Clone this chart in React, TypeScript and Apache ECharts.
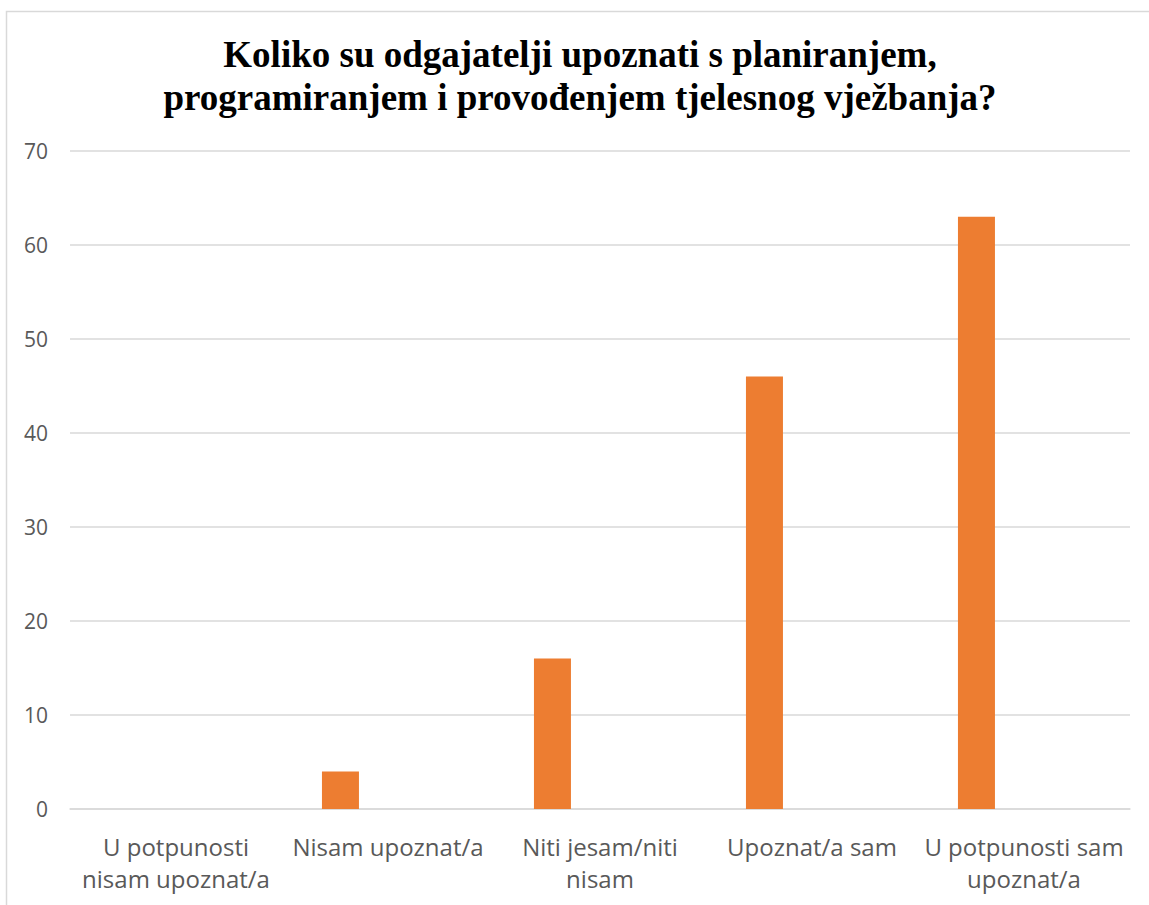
import React, { useEffect, useRef } from "react";
import * as echarts from "echarts";

const titleLines = [
  "Koliko su odgajatelji upoznati s planiranjem,",
  "programiranjem i provođenjem tjelesnog vježbanja?",
];
const categories = [
  "U potpunosti\nnisam upoznat/a",
  "Nisam upoznat/a",
  "Niti jesam/niti\nnisam",
  "Upoznat/a sam",
  "U potpunosti sam\nupoznat/a",
];
const values = [0, 4, 16, 46, 63];
const emptySeries: (number | null)[] = [null, null, null, null, null];
const yTicks = { min: 0, max: 70, interval: 10 };

export default function App() {
  const ref = useRef<HTMLDivElement>(null);
  useEffect(() => {
    if (!ref.current) return;
    const chart = echarts.init(ref.current, undefined, { renderer: "svg" });
    chart.setOption({
      animation: false,
      backgroundColor: "#ffffff",
      title: {
        text: titleLines.join("\n"),
        left: 575,
        top: 28,
        textAlign: "center",
        textStyle: {
          fontFamily: "Liberation Serif",
          fontWeight: "bold",
          fontSize: 37,
          lineHeight: 43,
          color: "#000000",
        },
      },
      graphic: [
        {
          type: "rect",
          shape: { x: 6.5, y: 11.5, width: 1160, height: 920 },
          style: { fill: "none", stroke: "#d9d9d9", lineWidth: 1.5 },
          silent: true,
        },
      ],
      grid: { left: 70, right: 19, top: 151, bottom: 96, containLabel: false },
      xAxis: {
        type: "category",
        data: categories,
        axisLine: { show: true, lineStyle: { color: "#d9d9d9", width: 1.5 } },
        axisTick: { show: false },
        axisLabel: {
          interval: 0,
          margin: 21,
          color: "#595959",
          fontFamily: "Open Sans",
          fontSize: 24,
          lineHeight: 32,
        },
      },
      yAxis: {
        type: "value",
        min: yTicks.min,
        max: yTicks.max,
        interval: yTicks.interval,
        axisLine: { show: false },
        axisTick: { show: false },
        splitLine: { lineStyle: { color: "#d9d9d9", width: 1.5 } },
        axisLabel: {
          margin: 22,
          color: "#595959",
          fontFamily: "Open Sans",
          fontSize: 21,
        },
      },
      series: [
        {
          type: "bar",
          data: values,
          barWidth: 37,
          barGap: "157%",
          itemStyle: { color: "#ED7D31" },
        },
        {
          type: "bar",
          data: emptySeries,
          barWidth: 37,
          itemStyle: { color: "#A5A5A5" },
        },
      ],
    });
    return () => chart.dispose();
  }, []);
  return (
    <div
      ref={ref}
      style={{ position: "absolute", left: 0, top: 0, width: 1149, height: 905 }}
    />
  );
}
